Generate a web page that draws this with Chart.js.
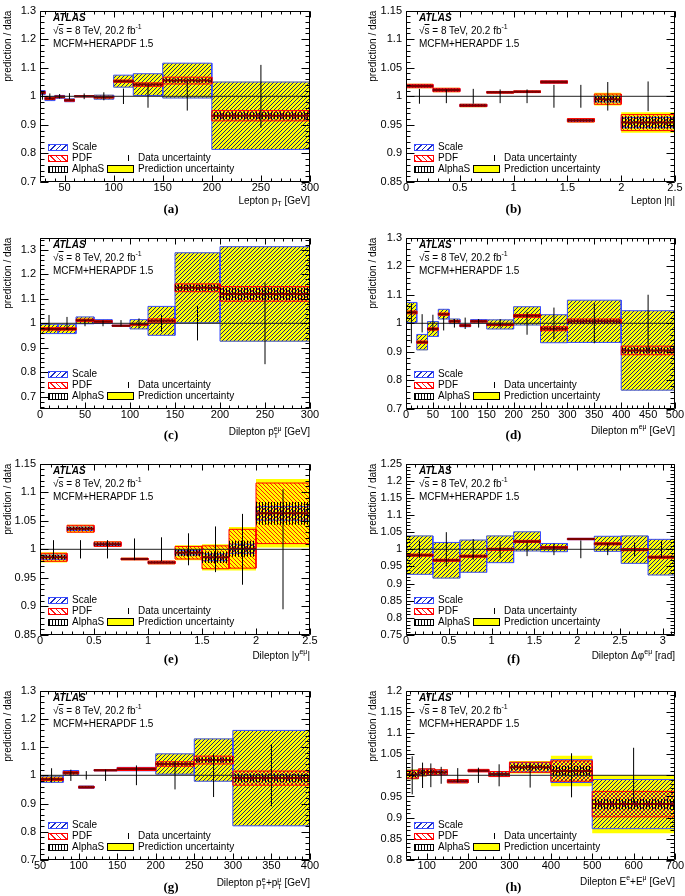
<!DOCTYPE html>
<html><head><meta charset="utf-8">
<script src="https://cdn.jsdelivr.net/npm/chart.js@4.4.0/dist/chart.umd.min.js"></script>
<style>
body{margin:0;background:#fff;}
#page{position:relative;width:685px;height:896px;overflow:hidden;font-family:'Liberation Sans',Arial,Helvetica,sans-serif;color:#000;background:#fff;}
canvas{position:absolute;}
.t{position:absolute;font-size:10px;line-height:12px;white-space:nowrap;}
.atlas{font-weight:bold;font-style:italic;}
.ov{text-decoration:overline;}
.let{font-family:'Liberation Serif','Times New Roman',serif;font-weight:bold;font-size:13px;transform:translateX(-50%);}
.sp{font-size:7px;vertical-align:5px;line-height:0;}
.sb{font-size:7px;vertical-align:-2px;line-height:0;}
.ss{display:inline-block;font-size:7px;line-height:7px;vertical-align:-3px;}
.ss span{display:block;}
.sw{position:absolute;box-sizing:border-box;}
</style></head>
<body><div id="page"></div>
<script>
// ---------------- data ----------------
// (a) Lepton pT
const aEdges=[25,30,40,50,60,80,100,120,150,200,300];
const aCenter=[1.013,0.992,0.998,0.986,1.000,0.997,1.053,1.041,1.055,0.932];
const aTotal=[0.008,0.008,0.006,0.006,0.003,0.008,0.022,0.039,0.062,0.120];
const aScale=[0.007,0.007,0.005,0.005,0.002,0.007,0.021,0.038,0.061,0.118];
const aPdf=[0.004,0.003,0.003,0.003,0.002,0.003,0.004,0.006,0.012,0.018];
const aAlphaS=[0.003,0.002,0.002,0.002,0.001,0.002,0.003,0.004,0.007,0.012];
const aDataErr=[0.012,0.010,0.008,0.011,0.010,0.014,0.027,0.040,0.050,0.110];
const aXRange=[25,300], aYRange=[0.7,1.3];
const aXTicks=[50,100,150,200,250,300];
const aYTicks=[0.7,0.8,0.9,1.0,1.1,1.2,1.3];
// (b) Lepton |eta|
const bEdges=[0,0.25,0.5,0.75,1,1.25,1.5,1.75,2,2.5];
const bCenter=[1.018,1.011,0.984,1.007,1.008,1.025,0.958,0.995,0.954];
const bTotal=[0.004,0.004,0.003,0.002,0.002,0.003,0.004,0.011,0.018];
const bScale=[0.002,0.002,0.002,0.001,0.001,0.002,0.002,0.005,0.009];
const bPdf=[0.003,0.003,0.002,0.0015,0.0015,0.002,0.003,0.009,0.014];
const bAlphaS=[0.002,0.002,0.0015,0.001,0.001,0.0015,0.002,0.006,0.011];
const bDataErr=[0.013,0.012,0.013,0.012,0.012,0.020,0.020,0.025,0.026];
const bXRange=[0,2.5], bYRange=[0.85,1.15];
const bXTicks=[0,0.5,1,1.5,2,2.5];
const bYTicks=[0.85,0.9,0.95,1,1.05,1.1,1.15];
// (c) Dilepton pT
const cEdges=[0,20,40,60,80,100,120,150,200,300];
const cCenter=[0.977,0.977,1.012,1.007,0.990,0.996,1.010,1.145,1.120];
const cTotal=[0.020,0.020,0.015,0.009,0.003,0.020,0.060,0.145,0.195];
const cScale=[0.019,0.019,0.014,0.008,0.002,0.019,0.059,0.143,0.193];
const cPdf=[0.005,0.005,0.005,0.004,0.002,0.004,0.008,0.016,0.030];
const cAlphaS=[0.003,0.003,0.003,0.002,0.001,0.003,0.005,0.012,0.025];
const cDataErr=[0.034,0.026,0.012,0.012,0.013,0.020,0.035,0.070,0.167];
const cXRange=[0,300], cYRange=[0.65,1.35];
const cXTicks=[0,50,100,150,200,250,300];
const cYTicks=[0.7,0.8,0.9,1.0,1.1,1.2,1.3];
// (d) Dilepton mass
const dEdges=[0,20,40,60,80,100,120,150,200,250,300,400,500];
const dCenter=[1.038,0.934,0.980,1.032,1.007,0.992,1.007,0.996,1.026,0.981,1.007,0.905];
const dTotal=[0.036,0.028,0.027,0.018,0.009,0.005,0.007,0.017,0.033,0.050,0.075,0.140];
const dScale=[0.035,0.027,0.026,0.017,0.008,0.004,0.006,0.016,0.032,0.049,0.074,0.139];
const dPdf=[0.005,0.004,0.004,0.004,0.003,0.003,0.003,0.004,0.005,0.007,0.008,0.015];
const dAlphaS=[0.003,0.003,0.003,0.003,0.002,0.002,0.002,0.003,0.004,0.005,0.006,0.010];
const dDataErr=[0.070,0.032,0.030,0.025,0.015,0.020,0.015,0.015,0.040,0.055,0.070,0.100];
const dXRange=[0,500], dYRange=[0.7,1.3];
const dXTicks=[0,50,100,150,200,250,300,350,400,450,500];
const dYTicks=[0.7,0.8,0.9,1.0,1.1,1.2,1.3];
// (e) Dilepton |y|
const eEdges=[0,0.25,0.5,0.75,1,1.25,1.5,1.75,2,2.5];
const eCenter=[0.986,1.036,1.009,0.983,0.977,0.994,0.986,1.001,1.063];
const eTotal=[0.009,0.007,0.005,0.002,0.003,0.013,0.023,0.038,0.060];
const eScale=[0.004,0.003,0.002,0.001,0.001,0.004,0.006,0.008,0.012];
const ePdf=[0.007,0.006,0.004,0.0015,0.0025,0.011,0.020,0.034,0.053];
const eAlphaS=[0.004,0.003,0.003,0.001,0.0015,0.006,0.010,0.014,0.020];
const eDataErr=[0.016,0.016,0.016,0.019,0.021,0.028,0.040,0.062,0.105];
const eXRange=[0,2.5], eYRange=[0.85,1.15];
const eXTicks=[0,0.5,1,1.5,2,2.5];
const eYTicks=[0.85,0.9,0.95,1,1.05,1.1,1.15];
// (f) Dilepton delta phi
const fEdges=[0,0.314,0.628,0.942,1.257,1.571,1.885,2.199,2.513,2.827,3.142];
const fCenter=[0.983,0.968,0.980,1.000,1.023,1.005,1.030,1.016,0.999,0.977];
const fTotal=[0.057,0.053,0.048,0.040,0.029,0.013,0.003,0.023,0.041,0.053];
const fScale=[0.056,0.052,0.047,0.039,0.028,0.012,0.002,0.022,0.040,0.052];
const fPdf=[0.003,0.003,0.003,0.003,0.003,0.003,0.002,0.003,0.003,0.003];
const fAlphaS=[0.002,0.002,0.002,0.002,0.002,0.002,0.001,0.002,0.002,0.002];
const fDataErr=[0.025,0.050,0.030,0.025,0.020,0.017,0.026,0.017,0.020,0.025];
const fXRange=[0,3.142], fYRange=[0.75,1.25];
const fXTicks=[0,0.5,1,1.5,2,2.5,3];
const fYTicks=[0.75,0.8,0.85,0.9,0.95,1,1.05,1.1,1.15,1.2,1.25];
// (g) Dilepton pTe+pTmu
const gEdges=[50,80,100,120,150,200,250,300,400];
const gCenter=[0.986,1.009,0.958,1.018,1.022,1.040,1.054,0.990];
const gTotal=[0.012,0.009,0.005,0.003,0.007,0.037,0.076,0.170];
const gScale=[0.011,0.008,0.004,0.002,0.006,0.036,0.075,0.169];
const gPdf=[0.004,0.004,0.003,0.002,0.005,0.008,0.014,0.025];
const gAlphaS=[0.003,0.003,0.002,0.001,0.003,0.005,0.009,0.015];
const gDataErr=[0.025,0.020,0.015,0.020,0.035,0.050,0.077,0.110];
const gXRange=[50,400], gYRange=[0.7,1.3];
const gXTicks=[50,100,150,200,250,300,350,400];
const gYTicks=[0.7,0.8,0.9,1.0,1.1,1.2,1.3];
// (h) Dilepton Ee+Emu
const hEdges=[50,80,100,120,150,200,250,300,400,500,700];
const hCenter=[1.002,1.007,1.008,1.007,0.986,1.011,1.003,1.019,1.010,0.932];
const hTotal=[0.012,0.010,0.009,0.007,0.005,0.003,0.007,0.015,0.036,0.069];
const hScale=[0.010,0.008,0.007,0.005,0.003,0.002,0.005,0.011,0.027,0.058];
const hPdf=[0.009,0.008,0.007,0.006,0.004,0.003,0.006,0.012,0.024,0.030];
const hAlphaS=[0.006,0.005,0.004,0.003,0.002,0.001,0.003,0.006,0.012,0.012];
const hDataErr=[0.045,0.030,0.028,0.020,0.017,0.018,0.026,0.029,0.052,0.065];
const hXRange=[50,700], hYRange=[0.8,1.2];
const hXTicks=[100,200,300,400,500,600,700];
const hYTicks=[0.8,0.85,0.9,0.95,1,1.05,1.1,1.15,1.2];

// ---------------- layout (positions only) ----------------
const COLS=[{cl:0,cw:342,fl:40,fr:310,lp:0},{cl:342,cw:343,fl:406,fr:675,lp:23}];
const ROWS=[{ft:7,fb:182,tt:201,lt:209},{ft:234,fb:409,tt:431,lt:435},{ft:460,fb:635,tt:656,lt:659},{ft:687,fb:860,tt:882,lt:887}];

const PANELS=[
 {key:'a',col:0,row:0,edges:aEdges,center:aCenter,total:aTotal,scale:aScale,pdf:aPdf,alphas:aAlphaS,dataErr:aDataErr,xr:aXRange,yr:aYRange,xt:aXTicks,yt:aYTicks,
  title:'Lepton p<span class="sb">T</span> [GeV]'},
 {key:'b',col:1,row:0,edges:bEdges,center:bCenter,total:bTotal,scale:bScale,pdf:bPdf,alphas:bAlphaS,dataErr:bDataErr,xr:bXRange,yr:bYRange,xt:bXTicks,yt:bYTicks,
  title:'Lepton |η|'},
 {key:'c',col:0,row:1,edges:cEdges,center:cCenter,total:cTotal,scale:cScale,pdf:cPdf,alphas:cAlphaS,dataErr:cDataErr,xr:cXRange,yr:cYRange,xt:cXTicks,yt:cYTicks,
  title:'Dilepton p<span class="ss"><span>eμ</span><span>T</span></span> [GeV]'},
 {key:'d',col:1,row:1,edges:dEdges,center:dCenter,total:dTotal,scale:dScale,pdf:dPdf,alphas:dAlphaS,dataErr:dDataErr,xr:dXRange,yr:dYRange,xt:dXTicks,yt:dYTicks,
  title:'Dilepton m<span class="sp">eμ</span> [GeV]'},
 {key:'e',col:0,row:2,edges:eEdges,center:eCenter,total:eTotal,scale:eScale,pdf:ePdf,alphas:eAlphaS,dataErr:eDataErr,xr:eXRange,yr:eYRange,xt:eXTicks,yt:eYTicks,
  title:'Dilepton |y<span class="sp">eμ</span>|'},
 {key:'f',col:1,row:2,edges:fEdges,center:fCenter,total:fTotal,scale:fScale,pdf:fPdf,alphas:fAlphaS,dataErr:fDataErr,xr:fXRange,yr:fYRange,xt:fXTicks,yt:fYTicks,
  title:'Dilepton Δφ<span class="sp">eμ</span> [rad]'},
 {key:'g',col:0,row:3,edges:gEdges,center:gCenter,total:gTotal,scale:gScale,pdf:gPdf,alphas:gAlphaS,dataErr:gDataErr,xr:gXRange,yr:gYRange,xt:gXTicks,yt:gYTicks,
  title:'Dilepton p<span class="ss"><span>e</span><span>T</span></span>+p<span class="ss"><span>μ</span><span>T</span></span> [GeV]'},
 {key:'h',col:1,row:3,edges:hEdges,center:hCenter,total:hTotal,scale:hScale,pdf:hPdf,alphas:hAlphaS,dataErr:hDataErr,xr:hXRange,yr:hYRange,xt:hXTicks,yt:hYTicks,
  title:'Dilepton E<span class="sp">e</span>+E<span class="sp">μ</span> [GeV]'}
];

// ---------------- styles ----------------
Chart.defaults.font.family="'Liberation Sans', Arial, Helvetica, sans-serif";
Chart.defaults.color='#000';
const YELLOW='#ffff00';
function makePattern(kind,color,size,lw){
  const c=document.createElement('canvas');c.width=c.height=size;
  const g=c.getContext('2d');g.strokeStyle=color;g.lineWidth=lw;g.beginPath();
  if(kind==='/'){g.moveTo(0,size);g.lineTo(size,0);g.moveTo(-1,1);g.lineTo(1,-1);g.moveTo(size-1,size+1);g.lineTo(size+1,size-1);}
  else if(kind==='\\'){g.moveTo(0,0);g.lineTo(size,size);g.moveTo(size-1,-1);g.lineTo(size+1,1);g.moveTo(-1,size-1);g.lineTo(1,size+1);}
  else {g.moveTo(size/2,0);g.lineTo(size/2,size);}
  g.stroke();
  return document.createElement('canvas').getContext('2d').createPattern(c,'repeat');
}
const PAT_SCALE=makePattern('/','#1b2278',4,1);
const PAT_PDF=makePattern('\\','#ff2000',4,1);
const PAT_AS=makePattern('|','#000000',3,1);
const NONE='rgba(0,0,0,0)';
const fmt=v=>String(parseFloat(Number(v).toFixed(3)));

function box(x0,x1,lo,hi){return [{x:x0,y:lo},{x:x0,y:hi},{x:x1,y:hi},{x:x1,y:lo},{x:x0,y:lo}];}

function buildDatasets(P){
  const ds=[];
  for(let i=0;i<P.center.length;i++){
    const x0=P.edges[i],x1=P.edges[i+1],c=P.center[i];
    ds.push({data:box(x0,x1,c-P.total[i],c+P.total[i]),fill:'shape',backgroundColor:YELLOW,borderColor:NONE,borderWidth:0,order:60});
    ds.push({data:box(x0,x1,c-P.scale[i],c+P.scale[i]),fill:'shape',backgroundColor:PAT_SCALE,borderColor:'#3a4cff',borderWidth:1,order:50});
    ds.push({data:box(x0,x1,c-P.pdf[i],c+P.pdf[i]),fill:'shape',backgroundColor:PAT_PDF,borderColor:'#ff0000',borderWidth:1,order:40});
    ds.push({data:box(x0,x1,c-P.alphas[i],c+P.alphas[i]),fill:'shape',backgroundColor:PAT_AS,borderColor:NONE,borderWidth:0,order:30});
    ds.push({data:[{x:x0,y:c},{x:x1,y:c}],fill:false,borderColor:'#7a0000',borderWidth:2,order:20});
    const m=(x0+x1)/2;
    ds.push({data:[{x:m,y:1-P.dataErr[i]},{x:m,y:1+P.dataErr[i]}],fill:false,borderColor:'#000',borderWidth:1,order:0});
  }
  ds.push({data:[{x:P.xr[0],y:1},{x:P.xr[1],y:1}],fill:false,borderColor:'#222',borderWidth:1,order:10});
  return ds;
}

const framePlugin={id:'rootframe',afterDraw(chart){
  const {ctx,chartArea:a,scales:{x,y}}=chart;
  const L=Math.round(a.left)+0.5,R=Math.round(a.right)-0.5,T=Math.round(a.top)+0.5,B=Math.round(a.bottom)-0.5;
  ctx.save();ctx.strokeStyle='#000';ctx.lineWidth=1;ctx.beginPath();
  ctx.rect(L,T,R-L,B-T);
  const xt=x.ticks.map(t=>t.value),yt=y.ticks.map(t=>t.value);
  const tx=(v,len)=>{const p=Math.round(x.getPixelForValue(v))+0.5;ctx.moveTo(p,B);ctx.lineTo(p,B-len);ctx.moveTo(p,T);ctx.lineTo(p,T+len);};
  const ty=(v,len)=>{const p=Math.round(y.getPixelForValue(v))+0.5;ctx.moveTo(L,p);ctx.lineTo(L+len,p);ctx.moveTo(R,p);ctx.lineTo(R-len,p);};
  const xs=(xt[1]-xt[0])/5,ys=(yt[1]-yt[0])/5;
  for(let k=Math.ceil(x.min/xs-1e-6);k<=Math.floor(x.max/xs+1e-6);k++)tx(k*xs,3);
  for(let k=Math.ceil(y.min/ys-1e-6);k<=Math.floor(y.max/ys+1e-6);k++)ty(k*ys,4);
  xt.forEach(v=>tx(v,6));yt.forEach(v=>ty(v,8));
  ctx.stroke();ctx.restore();
}};

const page=document.getElementById('page');
function txt(html,left,cy,cls,style){
  const d=document.createElement('div');d.className='t '+(cls||'');
  if(left!==null)d.style.left=left+'px';
  d.style.top=(cy-6)+'px';d.innerHTML=html;
  if(style)Object.assign(d.style,style);
  page.appendChild(d);return d;
}
function sw(left,top,w,h,style){
  const d=document.createElement('div');d.className='sw';
  Object.assign(d.style,{left:left+'px',top:top+'px',width:w+'px',height:h+'px'},style);
  page.appendChild(d);
}

PANELS.forEach(P=>{
  const C=COLS[P.col],R=ROWS[P.row];
  const cvTop=R.ft-7,cvH=R.fb-R.ft+7+16;
  const cv=document.createElement('canvas');
  cv.width=C.cw;cv.height=cvH;cv.style.left=C.cl+'px';cv.style.top=cvTop+'px';
  page.appendChild(cv);
  const yW=C.fl-C.cl-C.lp, padR=C.cl+C.cw-C.fr;
  const xT=P.xt,yT=P.yt;
  new Chart(cv,{
    type:'line',
    data:{datasets:buildDatasets(P)},
    options:{
      responsive:false,animation:false,events:[],
      elements:{point:{radius:0,hoverRadius:0},line:{tension:0,borderCapStyle:'butt',borderJoinStyle:'miter'}},
      layout:{padding:{left:C.lp,right:padR,top:7,bottom:0}},
      plugins:{legend:{display:false},tooltip:{enabled:false}},
      scales:{
        x:{type:'linear',min:P.xr[0],max:P.xr[1],
           grid:{display:false,drawTicks:false},border:{display:false},
           ticks:{font:{size:11},color:'#000',padding:-1,maxRotation:0,autoSkip:false,callback:fmt},
           afterBuildTicks:s=>{s.ticks=xT.map(v=>({value:v}));},
           afterFit:s=>{s.height=16;}},
        y:{type:'linear',min:P.yr[0],max:P.yr[1],
           grid:{display:false,drawTicks:false},border:{display:false},
           ticks:{font:{size:11},color:'#000',padding:4,autoSkip:false,callback:fmt},
           title:{display:true,text:'prediction / data',align:'end',color:'#000',font:{size:10},padding:{top:2,bottom:2}},
           afterBuildTicks:s=>{s.ticks=yT.map(v=>({value:v}));},
           afterFit:s=>{s.width=yW;}}
      }
    },
    plugins:[framePlugin]
  });
  // ATLAS labels
  const ax=C.fl+13;
  txt('ATLAS',ax,R.ft+11,'atlas');
  txt('√<span class="ov">s</span> = 8 TeV, 20.2 fb<span class="sp">-1</span>',ax,R.ft+23.5);
  txt('MCFM+HERAPDF 1.5',ax,R.ft+36.5);
  // legend
  const r1=R.fb-35,r2=R.fb-24,r3=R.fb-13;
  sw(C.fl+8,r1-3.5,20,7,{border:'1px solid #3a4cff',background:'repeating-linear-gradient(135deg,#1c2cc4 0 1px,#fff 1px 4px)'});
  sw(C.fl+8,r2-3.5,20,7,{border:'1px solid #ff0000',background:'repeating-linear-gradient(45deg,#ff1a1a 0 1px,#fff 1px 4px)'});
  sw(C.fl+8,r3-3.5,20,7,{border:'1px solid #000',background:'repeating-linear-gradient(90deg,#000 0 1px,#fff 1px 3px)'});
  txt('Scale',C.fl+32,r1);txt('PDF',C.fl+32,r2);txt('AlphaS',C.fl+32,r3);
  sw(C.fl+88,r2-3,1,6,{background:'#000'});
  sw(C.fl+67,r3-4,27,8,{background:YELLOW,border:'1px solid #000'});
  txt('Data uncertainty',C.fl+98,r2);txt('Prediction uncertainty',C.fl+98,r3);
  // axis title and panel letter
  txt(P.title,null,R.tt,'',{right:(685-C.fr)+'px'});
  txt('('+P.key+')',C.cl+C.cw/2,R.lt,'let');
});
</script>
</body></html>
